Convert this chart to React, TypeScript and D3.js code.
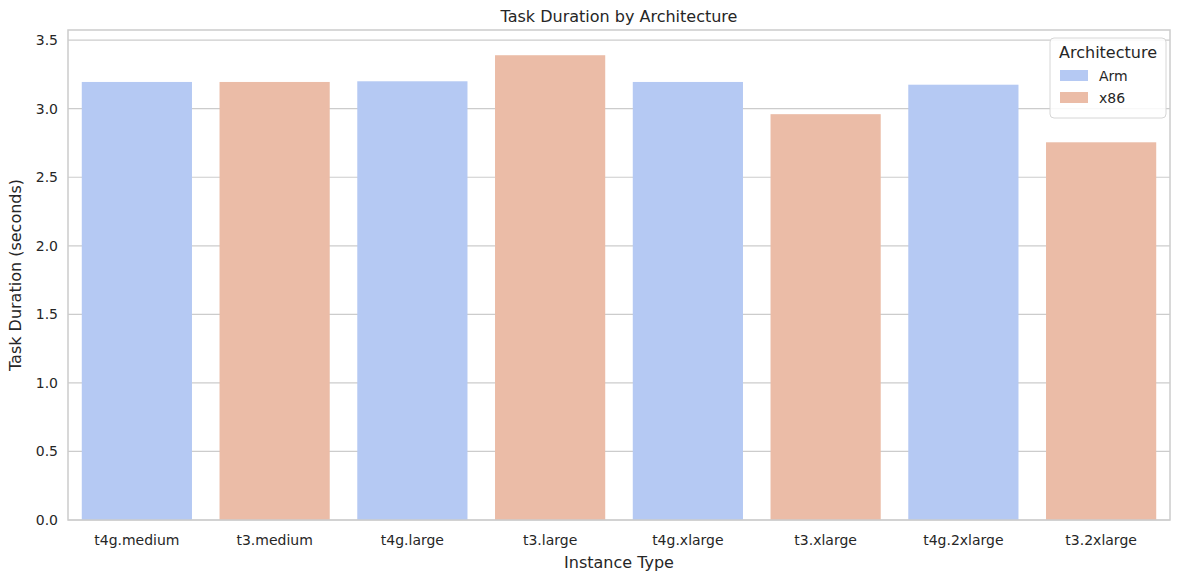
import React from "react";
import * as d3 from "d3";

const categories = ["t4g.medium","t3.medium","t4g.large","t3.large","t4g.xlarge","t3.xlarge","t4g.2xlarge","t3.2xlarge"];
const values = [3.195, 3.195, 3.2, 3.39, 3.195, 2.96, 3.175, 2.755];
const archs = ["Arm","x86","Arm","x86","Arm","x86","Arm","x86"];
const legendItems = ["Arm","x86"];
const yTicks = [0,0.5,1,1.5,2,2.5,3,3.5];
const colors: Record<string,string> = { Arm: "#b5c9f3", x86: "#ebbca7" };

export default function App() {
  const W = 1178, H = 578;
  const L = 68, R = 1170, T = 30, B = 520;
  const x = d3.scaleBand().domain(categories).range([L, R]).padding(0.2).paddingOuter(0.1);
  const y = d3.scaleLinear().domain([0, 3.574]).range([B, T]);
  const font = "DejaVu Sans, sans-serif";
  return (
    <svg width={W} height={H} style={{position:"absolute",left:0,top:0}} fontFamily={font}>
      <rect width={W} height={H} fill="#fff"/>
      {yTicks.map(t => (
        <g key={t}>
          <line x1={L} x2={R} y1={y(t)} y2={y(t)} stroke="#cccccc" strokeWidth={1.2}/>
          <text x={L-10} y={y(t)} dy="0.35em" textAnchor="end" fontSize={14} fill="#262626">{t.toFixed(1)}</text>
        </g>
      ))}
      {categories.map((c,i) => (
        <g key={c}>
          <rect x={x(c)} y={y(values[i])} width={x.bandwidth()} height={B - y(values[i])} fill={colors[archs[i]]}/>
          <text x={x(c)! + x.bandwidth()/2} y={B+25} textAnchor="middle" fontSize={14} fill="#262626">{c}</text>
        </g>
      ))}
      <rect x={L} y={T} width={R-L} height={B-T} fill="none" stroke="#cccccc" strokeWidth={1.5}/>
      <text x={(L+R)/2} y={22} textAnchor="middle" fontSize={16} fill="#262626">Task Duration by Architecture</text>
      <text x={(L+R)/2} y={568} textAnchor="middle" fontSize={16} fill="#262626">Instance Type</text>
      <text transform={`translate(21,${(T+B)/2}) rotate(-90)`} textAnchor="middle" fontSize={16} fill="#262626">Task Duration (seconds)</text>
      <g>
        <rect x={1050} y={38} width={116} height={80} rx={4} fill="#fff" fillOpacity={0.85} stroke="#d6d6d6"/>
        <text x={1108} y={58} textAnchor="middle" fontSize={16} fill="#262626">Architecture</text>
        {legendItems.map((a,i) => (
          <g key={a}>
            <rect x={1060} y={70 + i*22} width={28} height={11} fill={colors[a]}/>
            <text x={1099} y={76 + i*22} dy="0.35em" fontSize={14} fill="#262626">{a}</text>
          </g>
        ))}
      </g>
    </svg>
  );
}
